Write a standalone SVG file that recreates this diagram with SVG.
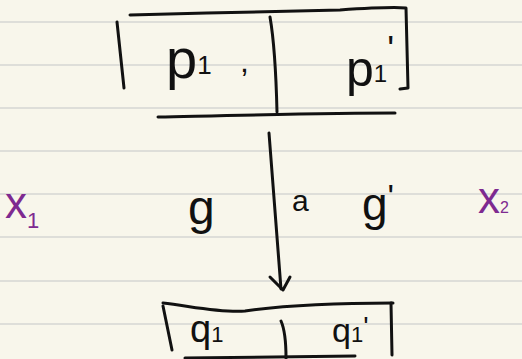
<svg xmlns="http://www.w3.org/2000/svg" width="522" height="359" viewBox="0 0 522 359">
<style>
.paper{fill:#f8f6eb}
.rule{stroke:#d6d6d3;stroke-width:1.5}
.ink{fill:none;stroke:#111;stroke-width:3;stroke-linecap:round;stroke-linejoin:round}
.t{font-family:"Liberation Sans","DejaVu Sans",sans-serif;fill:#111}
.pt{font-family:"Liberation Sans","DejaVu Sans",sans-serif;fill:#7e2a90}
</style>
<rect class="paper" x="0" y="0" width="522" height="359"/>
<g id="rules">
<line class="rule" x1="0" y1="22" x2="522" y2="22"/>
<line class="rule" x1="0" y1="65" x2="522" y2="65"/>
<line class="rule" x1="0" y1="108" x2="522" y2="108"/>
<line class="rule" x1="0" y1="151" x2="522" y2="151"/>
<line class="rule" x1="0" y1="194" x2="522" y2="194"/>
<line class="rule" x1="0" y1="237" x2="522" y2="237"/>
<line class="rule" x1="0" y1="281" x2="522" y2="281"/>
<line class="rule" x1="0" y1="324" x2="522" y2="324"/>
</g>
<g id="top-box">
<path class="ink" d="M130,15 C200,13 300,11 340,10 C370,8 395,7 406,8 L408,88 L400,89"/>
<path class="ink" d="M117,22 L124,88"/>
<path class="ink" d="M270,17 C274,40 276,70 277,112"/>
<path class="ink" d="M158,117 C250,115 330,113 395,113"/>
<text class="t" x="166" y="78" font-size="56">p<tspan font-size="26" dy="-4">1</tspan></text>
<text class="t" x="240" y="72" font-size="32">,</text>
<text class="t" x="346" y="86" font-size="50">p<tspan font-size="24" dy="-4">1</tspan><tspan font-size="36" dy="-20">'</tspan></text>
</g>
<g id="connectors">
<path class="ink" d="M269,133 L281,289"/>
<path class="ink" d="M270,277 L283,290 L290,277"/>
</g>
<g id="arrow-labels">
<text class="t" x="188" y="224" font-size="48">g</text>
<text class="t" x="292" y="211" font-size="30">a</text>
<text class="t" x="362" y="220" font-size="46">g<tspan font-size="34" dy="-12">'</tspan></text>
</g>
<g id="x1">
<text class="pt" x="5" y="218" font-size="44">x<tspan font-size="22" dy="10">1</tspan></text>
</g>
<g id="x2">
<text class="pt" x="478" y="213" font-size="44">x<tspan font-size="16" dy="0">2</tspan></text>
</g>
<g id="bottom-box">
<path class="ink" d="M163,303 C190,306 220,313 245,311 C280,306 330,303 393,303"/>
<path class="ink" d="M163,306 L172,350"/>
<path class="ink" d="M281,321 C285,330 286,345 286,358"/>
<path class="ink" d="M391,303 L392,355"/>
<path class="ink" d="M185,358 L355,356"/>
<text class="t" x="190" y="342" font-size="38">q<tspan font-size="22" dy="0">1</tspan></text>
<text class="t" x="332" y="342" font-size="34">q<tspan font-size="22" dy="0">1</tspan><tspan font-size="28" dy="-6">'</tspan></text>
</g>
</svg>
